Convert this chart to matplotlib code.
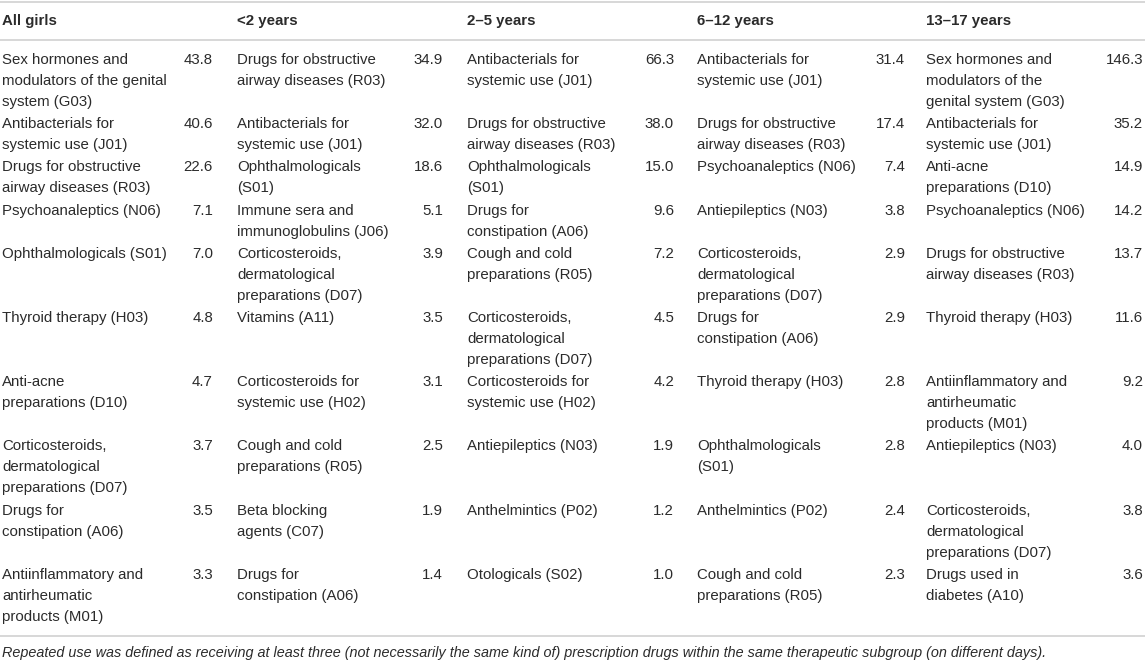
import matplotlib
matplotlib.use("Agg")
import matplotlib.pyplot as plt

plt.rcParams['font.family'] = ['Liberation Sans', 'DejaVu Sans']

# column headers
headers = ["All girls", "<2 years", "2–5 years", "6–12 years", "13–17 years"]

# drug groups and values per age group (line breaks as in the source table)
all_girls_drugs = [
    "Sex hormones and\nmodulators of the genital\nsystem (G03)",
    "Antibacterials for\nsystemic use (J01)",
    "Drugs for obstructive\nairway diseases (R03)",
    "Psychoanaleptics (N06)",
    "Ophthalmologicals (S01)",
    "Thyroid therapy (H03)",
    "Anti-acne\npreparations (D10)",
    "Corticosteroids,\ndermatological\npreparations (D07)",
    "Drugs for\nconstipation (A06)",
    "Antiinflammatory and\nantirheumatic\nproducts (M01)",
]
all_girls_vals = [43.8, 40.6, 22.6, 7.1, 7.0, 4.8, 4.7, 3.7, 3.5, 3.3]

under2_drugs = [
    "Drugs for obstructive\nairway diseases (R03)",
    "Antibacterials for\nsystemic use (J01)",
    "Ophthalmologicals\n(S01)",
    "Immune sera and\nimmunoglobulins (J06)",
    "Corticosteroids,\ndermatological\npreparations (D07)",
    "Vitamins (A11)",
    "Corticosteroids for\nsystemic use (H02)",
    "Cough and cold\npreparations (R05)",
    "Beta blocking\nagents (C07)",
    "Drugs for\nconstipation (A06)",
]
under2_vals = [34.9, 32.0, 18.6, 5.1, 3.9, 3.5, 3.1, 2.5, 1.9, 1.4]

age2_5_drugs = [
    "Antibacterials for\nsystemic use (J01)",
    "Drugs for obstructive\nairway diseases (R03)",
    "Ophthalmologicals\n(S01)",
    "Drugs for\nconstipation (A06)",
    "Cough and cold\npreparations (R05)",
    "Corticosteroids,\ndermatological\npreparations (D07)",
    "Corticosteroids for\nsystemic use (H02)",
    "Antiepileptics (N03)",
    "Anthelmintics (P02)",
    "Otologicals (S02)",
]
age2_5_vals = [66.3, 38.0, 15.0, 9.6, 7.2, 4.5, 4.2, 1.9, 1.2, 1.0]

age6_12_drugs = [
    "Antibacterials for\nsystemic use (J01)",
    "Drugs for obstructive\nairway diseases (R03)",
    "Psychoanaleptics (N06)",
    "Antiepileptics (N03)",
    "Corticosteroids,\ndermatological\npreparations (D07)",
    "Drugs for\nconstipation (A06)",
    "Thyroid therapy (H03)",
    "Ophthalmologicals\n(S01)",
    "Anthelmintics (P02)",
    "Cough and cold\npreparations (R05)",
]
age6_12_vals = [31.4, 17.4, 7.4, 3.8, 2.9, 2.9, 2.8, 2.8, 2.4, 2.3]

age13_17_drugs = [
    "Sex hormones and\nmodulators of the\ngenital system (G03)",
    "Antibacterials for\nsystemic use (J01)",
    "Anti-acne\npreparations (D10)",
    "Psychoanaleptics (N06)",
    "Drugs for obstructive\nairway diseases (R03)",
    "Thyroid therapy (H03)",
    "Antiinflammatory and\nantirheumatic\nproducts (M01)",
    "Antiepileptics (N03)",
    "Corticosteroids,\ndermatological\npreparations (D07)",
    "Drugs used in\ndiabetes (A10)",
]
age13_17_vals = [146.3, 35.2, 14.9, 14.2, 13.7, 11.6, 9.2, 4.0, 3.8, 3.6]

footnote = ("Repeated use was defined as receiving at least three (not necessarily the same kind of) "
            "prescription drugs within the same therapeutic subgroup (on different days).")

columns = [
    (all_girls_drugs, all_girls_vals),
    (under2_drugs, under2_vals),
    (age2_5_drugs, age2_5_vals),
    (age6_12_drugs, age6_12_vals),
    (age13_17_drugs, age13_17_vals),
]

# layout in pixels
W, H = 1145, 662
label_x = [2, 237, 467, 697, 926]
value_x = [213, 443, 674, 905, 1143]
line_h = 21
row_pad = 1.2
first_y = 60
txt_color = '#2b2b2b'
rule_color = '#d4d4d4'
fs = 10.8

fig = plt.figure(figsize=(W / 100, H / 100), dpi=100)
ax = fig.add_axes([0, 0, 1, 1])
ax.set_xlim(0, W)
ax.set_ylim(H, 0)
ax.axis('off')

# rules
ax.axhline(1.5, color=rule_color, lw=1.3)
ax.axhline(39.5, color=rule_color, lw=1.3)
ax.axhline(635.5, color=rule_color, lw=1.3)

# header
for x, h in zip(label_x, headers):
    ax.text(x, 21, h, fontsize=fs, fontweight='bold', color=txt_color, va='center', ha='left')

# body rows
n_rows = len(all_girls_drugs)
y = first_y
for r in range(n_rows):
    n_lines = max(col[0][r].count('\n') + 1 for col in columns)
    for c, (drugs, vals) in enumerate(columns):
        for i, line in enumerate(drugs[r].split('\n')):
            ax.text(label_x[c], y + i * line_h, line, fontsize=fs, color=txt_color,
                    va='center', ha='left')
        ax.text(value_x[c], y, f"{vals[r]:.1f}", fontsize=fs, color=txt_color,
                va='center', ha='right')
    y += n_lines * line_h + row_pad

# footnote
ax.text(2, 653, footnote, fontsize=10.4, style='italic', color=txt_color, va='center', ha='left')

fig.savefig('out.png', dpi=100)
